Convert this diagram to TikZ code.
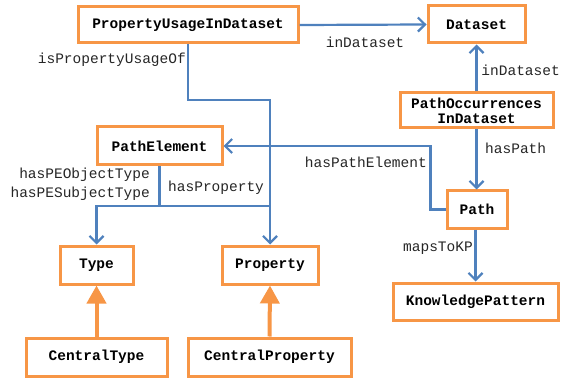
\documentclass[tikz,border=0pt]{standalone}
\usepackage{fontspec}
\setmonofont{Liberation Mono}
\usetikzlibrary{arrows.meta}
\definecolor{boxorange}{HTML}{F79646}
\definecolor{linkblue}{HTML}{4F81BD}
\tikzset{
  cls/.style={draw=boxorange, line width=3pt, fill=white, inner sep=0pt,
    font=\fontsize{14.5}{15}\selectfont\ttfamily\bfseries, align=center},
  rel/.style={draw=linkblue, line width=2.2pt, -{Straight Barb[length=7pt,width=14pt,line width=2.2pt]}},
  relnotip/.style={draw=linkblue, line width=2.2pt},
  isa/.style={draw=boxorange, line width=4pt, -{Triangle[length=18pt,width=19pt]}},
  lbl/.style={font=\fontsize{14.5}{15}\selectfont\ttfamily, inner sep=0pt, text=black!85}
}
\begin{document}
\begin{tikzpicture}[x=1pt,y=-1pt]
\useasboundingbox (0,0) rectangle (561,379);

% classes
\node[cls, minimum width=220pt, minimum height=36pt] (puid) at (188,25) {PropertyUsageInDataset};
\node[cls, minimum width=97pt, minimum height=37pt] (ds) at (476.5,24.5) {Dataset};
\node[cls, minimum width=153pt, minimum height=35pt] (poc) at (476.5,110.5) {PathOccurrences\\InDataset};
\node[cls, minimum width=125pt, minimum height=38pt] (pe) at (159.5,146) {PathElement};
\node[cls, minimum width=60pt, minimum height=37pt] (path) at (477,209.5) {Path};
\node[cls, minimum width=165pt, minimum height=37pt] (kp) at (475.5,301.5) {KnowledgePattern};
\node[cls, minimum width=73pt, minimum height=38pt] (type) at (96.5,265) {Type};
\node[cls, minimum width=96pt, minimum height=38pt] (prop) at (270,265) {Property};
\node[cls, minimum width=141pt, minimum height=38pt] (ctype) at (96.5,357) {CentralType};
\node[cls, minimum width=163pt, minimum height=38pt] (cprop) at (269.5,357) {CentralProperty};

% relations
\draw[rel] (puid.east) -- (ds.west);
\draw[rel] (poc.north) -- (ds.south);
\draw[rel] (poc.south) -- (path.north -| poc.south);
\draw[rel] (path.south -| kp.north) -- (kp.north);
\draw[rel] (path.west) -- ++(-15,0) |- (pe.east);
\coordinate (pubend) at (188,100);
\draw[rel] (puid.south) -- (pubend) -| (prop.north);
\coordinate (pejoin) at (159.5,206);
\draw[rel] (pe.south) -- (pejoin) -| (type.north);
\draw[relnotip] (pejoin) -- (pejoin -| prop.north);

% subclass links
\draw[isa] (ctype.north) -- (type.south);
\draw[isa] (cprop.north) -- (prop.south);

% relation labels
\node[lbl] (l1) at (365,42) {inDataset};
\node[lbl, anchor=east] (l2) at (560,70) {inDataset};
\node[lbl, anchor=west] (l3) at (485,148) {hasPath};
\node[lbl, anchor=east] (l4) at (427,162) {hasPathElement};
\node[lbl, anchor=east] (l5) at (473,248) {mapsToKP};
\node[lbl, anchor=east] (l6) at (186,60) {isPropertyUsageOf};
\node[lbl, anchor=east] (l7) at (150,175) {hasPEObjectType};
\node[lbl, anchor=east] (l8) at (150,194) {hasPESubjectType};
\node[lbl, anchor=west] (l9) at (168,188) {hasProperty};
\end{tikzpicture}
\end{document}
